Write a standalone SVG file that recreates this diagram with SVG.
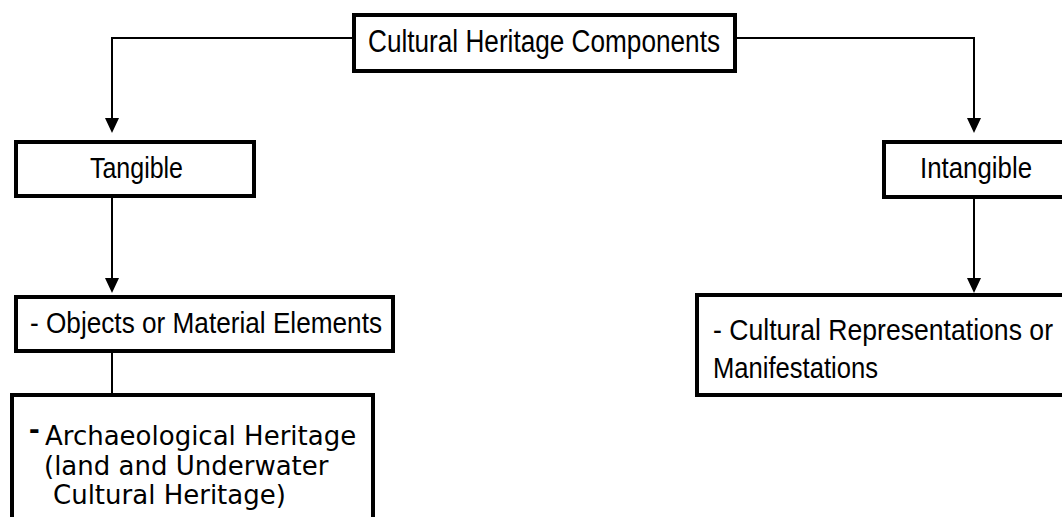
<svg xmlns="http://www.w3.org/2000/svg" width="1062" height="517" viewBox="0 0 1062 517">
<style>
.box{fill:#fff;stroke:#000;stroke-width:4}
.ln{fill:none;stroke:#000;stroke-width:2}
.ah{fill:#000}
.ar{font-family:"Liberation Sans",Arial,sans-serif;fill:#000}
.dv{font-family:"DejaVu Sans",Verdana,sans-serif;font-size:26px;fill:#000}
</style>
<rect width="1062" height="517" fill="#fff"/>
<g id="connectors">
<path class="ln" d="M352,38 H112 V118"/>
<path class="ah" d="M105,118 L119,118 L112,133 Z"/>
<path class="ln" d="M737,38 H974 V118"/>
<path class="ah" d="M967,118 L981,118 L974,133 Z"/>
<path class="ln" d="M112,198 V278"/>
<path class="ah" d="M105,278 L119,278 L112,293 Z"/>
<path class="ln" d="M974,199 V278"/>
<path class="ah" d="M967,278 L981,278 L974,293 Z"/>
<path class="ln" d="M112,353 V393"/>
</g>
<g id="node-root">
<rect class="box" x="354" y="15" width="381" height="56"/>
<text class="ar" x="368" y="52" font-size="31" textLength="352" lengthAdjust="spacingAndGlyphs">Cultural Heritage Components</text>
</g>
<g id="node-tangible">
<rect class="box" x="16" y="142" width="238" height="54"/>
<text class="ar" x="90" y="178" font-size="29" textLength="93" lengthAdjust="spacingAndGlyphs">Tangible</text>
</g>
<g id="node-intangible">
<rect class="box" x="884" y="142" width="200" height="55"/>
<text class="ar" x="920" y="178" font-size="29" textLength="112" lengthAdjust="spacingAndGlyphs">Intangible</text>
</g>
<g id="node-objects">
<rect class="box" x="16" y="297" width="377" height="54"/>
<text class="ar" x="30" y="333" font-size="29" textLength="352" lengthAdjust="spacingAndGlyphs">- Objects or Material Elements</text>
</g>
<g id="node-archaeological">
<rect class="box" x="12" y="395" width="361" height="140"/>
<text class="dv"><tspan x="29" y="439" class="ar" font-size="32" font-weight="bold">-</tspan><tspan x="45" y="445">Archaeological Heritage</tspan><tspan x="44" y="475">(land and Underwater</tspan><tspan x="53" y="504">Cultural Heritage)</tspan></text>
</g>
<g id="node-representations">
<rect class="box" x="697" y="295" width="400" height="100"/>
<text class="ar" font-size="29"><tspan x="713" y="340" textLength="340" lengthAdjust="spacingAndGlyphs">- Cultural Representations or</tspan><tspan x="713" y="378" textLength="165" lengthAdjust="spacingAndGlyphs">Manifestations</tspan></text>
</g>
</svg>
